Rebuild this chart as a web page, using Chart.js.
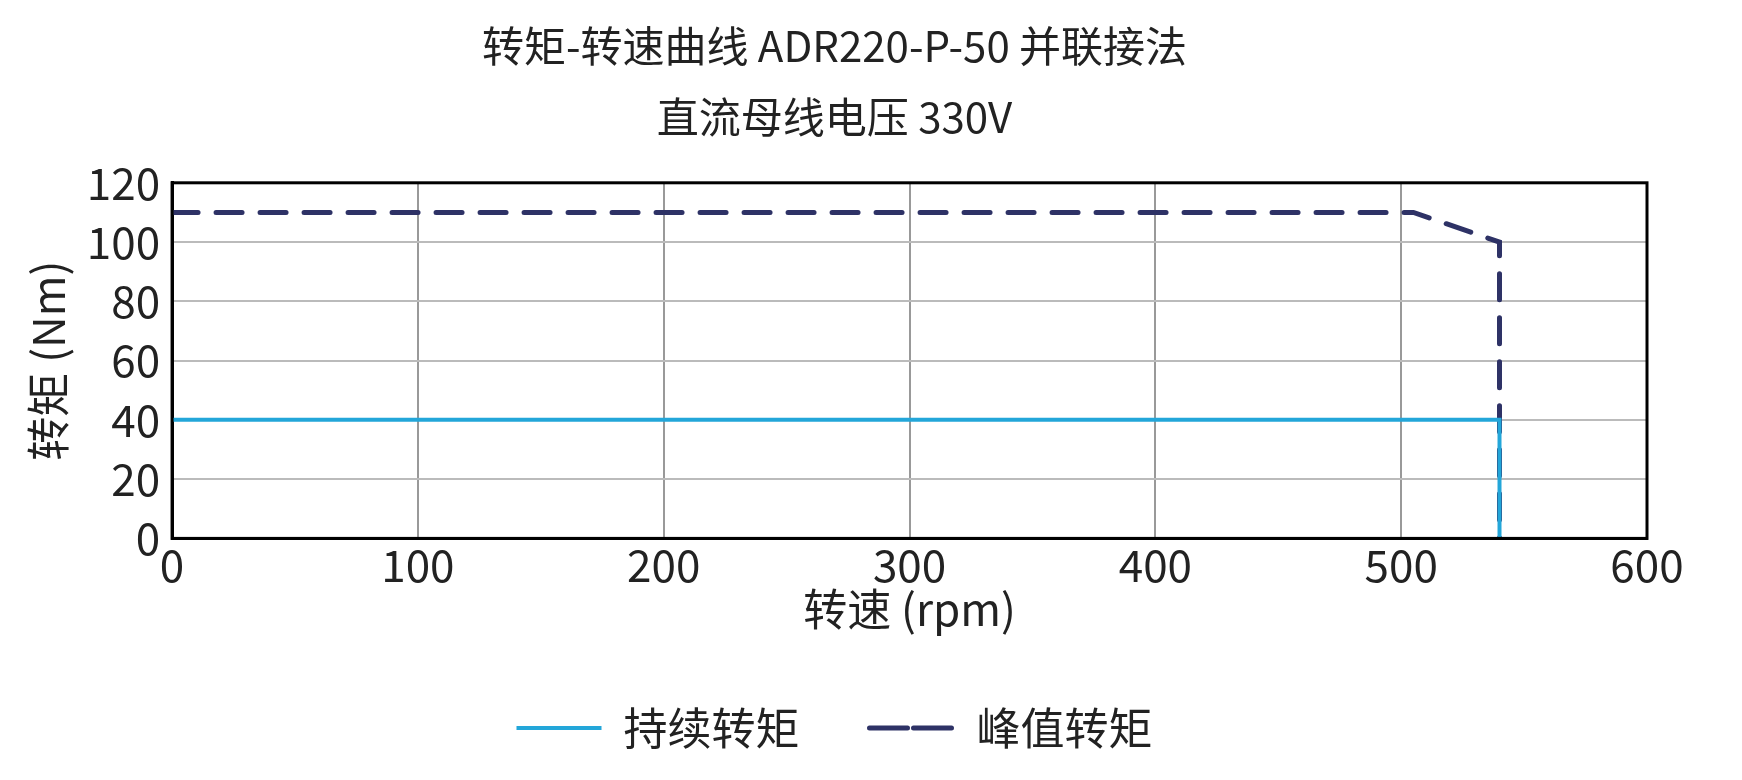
<!DOCTYPE html>
<html><head><meta charset="utf-8">
<script src="https://cdn.jsdelivr.net/npm/chart.js@4"></script>
<style>html,body{margin:0;background:#fff}#wrap{width:1742px;height:780px}</style>
</head><body><div id="wrap"><canvas id="c"></canvas></div>
<script>
const titleLines = ['转矩-转速曲线 ADR220-P-50 并联接法', '直流母线电压 330V'];
const contSpeed = [0, 540, 540];
const contTorque = [40, 40, 0];
const peakSpeed = [0, 505, 540, 540];
const peakTorque = [110, 110, 100, 0];
const seriesNames = ['持续转矩', '峰值转矩'];

const font = 'Noto Sans CJK SC';
const pts = (xs, ys) => xs.map((x, i) => ({x: x, y: ys[i]}));

new Chart(document.getElementById('c'), {
    type: 'scatter',
    data: {
        datasets: [
            { label: seriesNames[0], data: pts(contSpeed, contTorque), showLine: true, borderColor: '#23a6d9', backgroundColor: '#23a6d9', borderWidth: 4, pointRadius: 0 },
            { label: seriesNames[1], data: pts(peakSpeed, peakTorque), showLine: true, borderColor: '#2e3266', backgroundColor: 'transparent', borderWidth: 5, borderDash: [26, 18], borderCapStyle: 'round', pointRadius: 0 }
        ]
    },
    options: {
        responsive: true, maintainAspectRatio: false, animation: false,
        layout: { padding: { left: 22, right: 95, top: 10, bottom: 20 } },
        plugins: {
            title: { display: true, text: titleLines, color: '#222', font: { family: font, size: 42, weight: 'normal', lineHeight: 1.7 }, padding: { bottom: 30 } },
            legend: { position: 'bottom', labels: { color: '#222', font: { family: font, size: 44 }, boxWidth: 85, boxHeight: 0, padding: 70 } },
            tooltip: { enabled: false }
        },
        scales: {
            x: { type: 'linear', min: 0, max: 600,
                 ticks: { stepSize: 100, color: '#222', font: { family: font, size: 44 }, padding: 0 },
                 grid: { color: '#999', lineWidth: 2, drawTicks: false },
                 border: { color: '#000', width: 3 },
                 title: { display: true, text: '转速 (rpm)', color: '#222', font: { family: font, size: 44 }, padding: { top: -8, bottom: 0 } } },
            y: { min: 0, max: 120,
                 ticks: { stepSize: 20, color: '#222', font: { family: font, size: 44 }, padding: 12 },
                 grid: { color: '#bbb', lineWidth: 2, drawTicks: false },
                 border: { color: '#000', width: 3 },
                 title: { display: true, text: '转矩 (Nm)', color: '#222', font: { family: font, size: 44 }, padding: 0 } }
        }
    },
    plugins: [{
        id: 'frame',
        afterDraw(chart) {
            const a = chart.chartArea, ctx = chart.ctx;
            ctx.save(); ctx.strokeStyle = '#000'; ctx.lineWidth = 3;
            ctx.strokeRect(a.left, a.top, a.right - a.left, a.bottom - a.top);
            ctx.restore();
        }
    }]
});
</script></body></html>
